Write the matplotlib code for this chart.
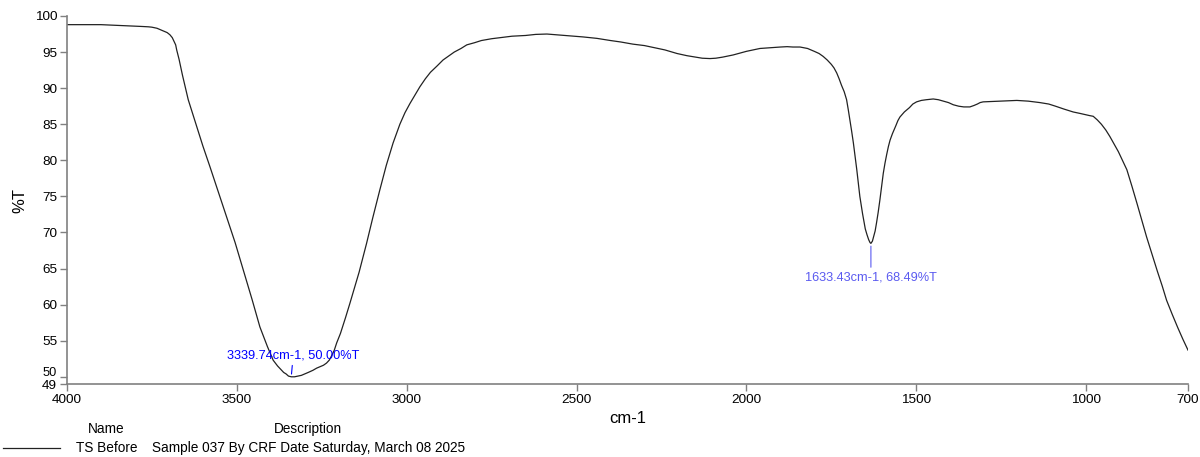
import numpy as np
import matplotlib.pyplot as plt
import matplotlib.transforms as mtransforms

plt.rcParams['font.family'] = ['Liberation Sans', 'DejaVu Sans']

# FTIR spectrum, TS Before (wavenumber cm-1, %T)
wavenumber = [4000, 3900, 3850, 3800, 3780, 3760, 3750, 3735, 3725, 3715,
              3705, 3697, 3690, 3685, 3680, 3677, 3670, 3660, 3655, 3643,
              3618, 3600, 3579, 3555, 3530, 3505, 3481, 3455, 3432, 3410,
              3393, 3380, 3370, 3362, 3355, 3348, 3339.74, 3330, 3320, 3310,
              3300, 3290, 3276, 3265, 3250, 3245, 3236, 3228, 3220, 3213,
              3206, 3195, 3180, 3167, 3140, 3118, 3100, 3079, 3060, 3040,
              3020, 3005, 2990, 2975, 2961, 2945, 2930, 2910, 2893, 2875,
              2860, 2840, 2823, 2800, 2780, 2750, 2725, 2690, 2650, 2620,
              2587, 2560, 2530, 2481, 2440, 2400, 2370, 2334, 2300, 2270,
              2240, 2204, 2175, 2150, 2130, 2107, 2090, 2070, 2055, 2039,
              2020, 2000, 1980, 1960, 1930, 1900, 1880, 1863, 1842, 1820,
              1800, 1786, 1774, 1762, 1750, 1742, 1734, 1727, 1720, 1712,
              1705, 1700, 1695, 1690, 1685, 1675, 1666, 1658, 1650, 1645,
              1640, 1636, 1633.43, 1629, 1625, 1621, 1617, 1612, 1607, 1602,
              1597, 1592, 1587, 1582, 1577, 1570, 1560, 1554, 1548, 1535,
              1520, 1510, 1499, 1485, 1470, 1450, 1435, 1420, 1405, 1391,
              1375, 1360, 1342, 1330, 1320, 1312, 1303, 1280, 1250, 1204,
              1170, 1136, 1110, 1090, 1065, 1038, 1018, 1000, 990, 979,
              967, 955, 942, 930, 918, 905, 893, 880, 865, 850,
              836, 822, 806, 790, 776, 763, 746, 730, 715, 700]
transmittance = [98.8, 98.8, 98.7, 98.6, 98.55, 98.5, 98.45, 98.3, 98.1, 97.9,
                 97.7, 97.4, 97.0, 96.5, 96.0, 95.3, 94.0, 91.8, 90.8, 88.4,
                 84.7, 82.0, 79.1, 75.7, 72.2, 68.6, 64.8, 60.7, 56.9, 54.2,
                 52.3, 51.5, 51.0, 50.6, 50.4, 50.1, 50.00, 50.0, 50.1, 50.2,
                 50.4, 50.6, 50.9, 51.2, 51.5, 51.6, 51.9, 52.3, 53.0, 53.7,
                 54.7, 56.0, 58.2, 60.2, 64.5, 68.5, 72.0, 75.9, 79.3, 82.4,
                 85.0, 86.6, 87.9, 89.1, 90.2, 91.3, 92.2, 93.1, 93.9, 94.5,
                 95.0, 95.5, 96.0, 96.3, 96.6, 96.85, 97.0, 97.2, 97.3, 97.45,
                 97.5, 97.4, 97.3, 97.1, 96.9, 96.6, 96.4, 96.1, 95.9, 95.6,
                 95.3, 94.8, 94.5, 94.3, 94.15, 94.1, 94.15, 94.3, 94.45, 94.6,
                 94.85, 95.1, 95.3, 95.5, 95.6, 95.7, 95.75, 95.7, 95.7, 95.5,
                 95.1, 94.8, 94.4, 93.9, 93.3, 92.8, 92.1, 91.3, 90.4, 89.5,
                 88.4, 87.0, 85.5, 84.0, 82.4, 78.7, 75.0, 72.6, 70.5, 69.7,
                 69.0, 68.6, 68.49, 68.8, 69.5, 70.2, 71.3, 72.8, 74.5, 76.4,
                 78.2, 79.6, 80.8, 81.9, 82.8, 83.7, 84.8, 85.5, 86.0, 86.7,
                 87.3, 87.8, 88.1, 88.3, 88.4, 88.5, 88.4, 88.2, 88.0, 87.7,
                 87.5, 87.4, 87.4, 87.6, 87.8, 88.0, 88.1, 88.15, 88.2, 88.3,
                 88.2, 88.0, 87.8, 87.5, 87.1, 86.7, 86.5, 86.3, 86.2, 86.1,
                 85.6, 85.0, 84.2, 83.3, 82.3, 81.2, 80.0, 78.7, 76.4, 74.0,
                 71.7, 69.4, 67.0, 64.6, 62.6, 60.6, 58.6, 56.8, 55.2, 53.7]

# labelled peaks
peak_x = [3339.74, 1633.43]
peak_y = [50.00, 68.49]
peak_color = ['#0000ff', '#5a5af0']
peak_offset = [(1.4, 15.5), (0.0, -24.5)]

xticks = [4000, 3500, 3000, 2500, 2000, 1500, 1000, 700]
yticks = [49, 50, 55, 60, 65, 70, 75, 80, 85, 90, 95, 100]

axis_gray = '#808080'

fig = plt.figure(figsize=(12, 4.57), dpi=100)
ax = fig.add_axes([0.0558, 0.1597, 0.9342, 0.8053])
ax.plot(wavenumber, transmittance, color='#222222', lw=0.9)

ax.set_xlim(4000, 700)
ax.set_ylim(49, 100)
ax.set_xticks(xticks)
ax.set_yticks(yticks)
ax.tick_params(labelsize=9.7, color=axis_gray, length=5, width=1, pad=2)

# "50" sits just above its tick so it doesn't run into "49"
lift = mtransforms.ScaledTranslation(0, 4 / 72, fig.dpi_scale_trans)
for lab in ax.get_yticklabels():
    if lab.get_text() == '50':
        lab.set_transform(lab.get_transform() + lift)
        lab.set_fontsize(9.2)

for side in ['top', 'right']:
    ax.spines[side].set_visible(False)
for side in ['left', 'bottom']:
    ax.spines[side].set_color(axis_gray)
    ax.spines[side].set_linewidth(1.2)

ax.set_xlabel('cm-1', fontsize=12, labelpad=4)
ax.set_ylabel('%T', fontsize=12, labelpad=5)

for px, py, c, off in zip(peak_x, peak_y, peak_color, peak_offset):
    ax.annotate(f'{px:.2f}cm-1, {py:.2f}%T', xy=(px, py), xytext=off,
                textcoords='offset points', ha='center', va='center',
                fontsize=9.2, color=c,
                arrowprops=dict(arrowstyle='-', color=c, lw=0.8,
                                shrinkA=1, shrinkB=2))

# legend table under the plot
fig.text(106 / 1200, 1 - 429 / 457, 'Name', fontsize=9.8, ha='center', va='center')
fig.text(308 / 1200, 1 - 429 / 457, 'Description', fontsize=9.8, ha='center', va='center')
fig.add_artist(plt.Line2D([3 / 1200, 60 / 1200], [1 - 448 / 457, 1 - 448 / 457],
                          color='#222222', lw=0.9))
fig.text(76 / 1200, 1 - 448 / 457, 'TS Before', fontsize=9.8, ha='left', va='center')
fig.text(152 / 1200, 1 - 448 / 457, 'Sample 037 By CRF Date Saturday, March 08 2025',
         fontsize=9.8, ha='left', va='center')

fig.savefig('out.png', dpi=100)
